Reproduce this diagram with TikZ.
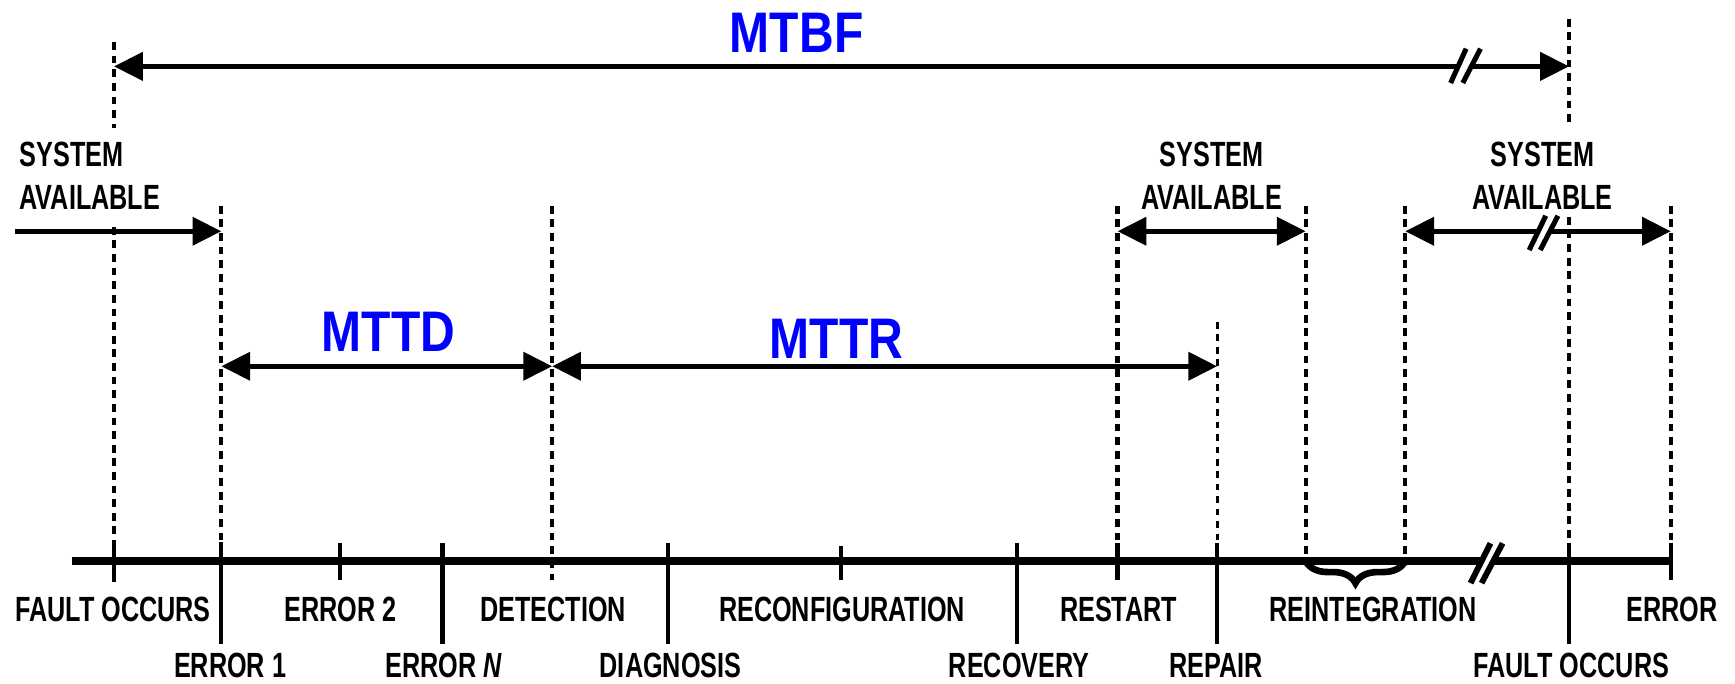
\documentclass[tikz,border=0pt]{standalone}
\usepackage{fontspec}
\setmainfont{Liberation Sans}[FakeStretch=0.72]
\newfontfamily\bluefont{Liberation Sans}[FakeStretch=0.84]
\usetikzlibrary{arrows.meta,decorations.pathreplacing}
\definecolor{mblue}{RGB}{0,0,255}
\tikzset{
  lbl/.style={font=\bfseries\fontsize{9}{11.1}\selectfont, inner sep=0pt, anchor=base},
  salbl/.style={font=\bfseries\fontsize{9}{11.1}\selectfont, inner sep=0pt, align=center},
  biglbl/.style={font=\bluefont\bfseries\fontsize{14.7}{17}\selectfont, text=mblue, inner sep=0pt, anchor=base},
  axisline/.style={line width=1.8pt},
  tk/.style={line width=1.1pt},
  dl/.style={line width=1.1pt, dash pattern=on 2pt off 1.5pt},
  dlthin/.style={line width=0.75pt, dash pattern=on 1.7pt off 1.5pt},
  spanline/.style={line width=1.25pt},
  brk/.style={line width=1.3pt},
  myhead/.tip={Triangle[length=0.26cm,width=0.25cm]},
}
\begin{document}
\begin{tikzpicture}[x=0.01cm,y=-0.01cm]
\useasboundingbox (0,0) rectangle (1568,618);

% ---- vertical reference lines
\coordinate (v1t) at (103,38);  \coordinate (v1m) at (103,116);
\coordinate (v1n) at (103,205); \coordinate (v1b) at (103,507);
\coordinate (v2t) at (200,186); \coordinate (v2b) at (200,507);
\coordinate (v3t) at (499,186); \coordinate (v3b) at (499,524);
\coordinate (v4t) at (1010,186); \coordinate (v4b) at (1010,507);
\coordinate (v5t) at (1100,291); \coordinate (v5b) at (1100,507);
\coordinate (v6t) at (1180,186); \coordinate (v6b) at (1180,507);
\coordinate (v7t) at (1270,186); \coordinate (v7b) at (1270,507);
\coordinate (v8t) at (1418,17);  \coordinate (v8m) at (1418,111);
\coordinate (v8n) at (1418,196); \coordinate (v8b) at (1418,507);
\coordinate (v9t) at (1510,186); \coordinate (v9b) at (1510,507);

\draw[dl] (v1t) -- (v1m);
\draw[dl] (v1n) -- (v1b);
\draw[dl] (v2t) -- (v2b);
\draw[dl] (v3t) -- (v3b);
\draw[dl] (v4t) -- (v4b);
\draw[dlthin] (v5t) -- (v5b);
\draw[dl] (v6t) -- (v6b);
\draw[dl] (v7t) -- (v7b);
\draw[dl] (v8t) -- (v8m);
\draw[dl] (v8n) -- (v8b);
\draw[dl] (v9t) -- (v9b);

% ---- time axis
\coordinate (axL) at (65,507);  \coordinate (axA) at (1339,507);
\coordinate (axB) at (1349,507); \coordinate (axR) at (1510,507);
\draw[axisline] (axL) -- (axA);
\draw[axisline] (axB) -- (axR);
\draw[brk,line width=1.5pt] (1329,527) -- (1347,491);
\draw[brk,line width=1.5pt] (1339,527) -- (1358,491);

% ---- ticks
\draw[tk] (103,490) -- (103,526);
\draw[tk] (200,490) -- (200,582);
\draw[tk] (307,491) -- (307,524);
\draw[tk] (400,491) -- (400,582);
\draw[tk] (604,491) -- (604,582);
\draw[tk] (760,493) -- (760,524);
\draw[tk] (919,491) -- (919,582);
\draw[tk] (1010,491) -- (1010,524);
\draw[tk] (1100,491) -- (1100,582);
\draw[tk] (1418,491) -- (1418,582);
\draw[tk] (1510,491) -- (1510,524);

% ---- brace
\draw[line width=1.7pt, decorate, decoration={brace, mirror, amplitude=0.2cm}] (v6b) -- (v7b);

% ---- span arrows
\coordinate (mbL) at (103,60);  \coordinate (mbA) at (1318,60);
\coordinate (mbB) at (1330,60); \coordinate (mbR) at (1418,60);
\draw[spanline, myhead-] (mbL) -- (mbA);
\draw[spanline, -myhead] (mbB) -- (mbR);
\draw[brk] (1311,75) -- (1325,44);
\draw[brk] (1322,75) -- (1338,44);

\coordinate (saL) at (14,209); \coordinate (saR) at (200,209);
\draw[spanline, -myhead] (saL) -- (saR);

\coordinate (smL) at (1010,209); \coordinate (smR) at (1180,209);
\draw[spanline, myhead-myhead] (smL) -- (smR);

\coordinate (srL) at (1270,209); \coordinate (srA) at (1390,209);
\coordinate (srB) at (1400,209); \coordinate (srR) at (1510,209);
\draw[spanline, myhead-] (srL) -- (srA);
\draw[spanline, -myhead] (srB) -- (srR);
\draw[brk] (1382,226) -- (1397,195);
\draw[brk] (1392,226) -- (1408,195);

\coordinate (tdL) at (200,331); \coordinate (tdR) at (499,331);
\draw[spanline, myhead-myhead] (tdL) -- (tdR);
\coordinate (trL) at (499,331); \coordinate (trR) at (1100,331);
\draw[spanline, myhead-myhead] (trL) -- (trR);

% ---- blue labels
\node[biglbl] (mtbf) at (720,47) {MTBF};
\node[biglbl] (mttd) at (351,318) {MTTD};
\node[biglbl] (mttr) at (756,324) {MTTR};

% ---- system available labels
\node[salbl, align=left, anchor=west] (sa1) at (17,159) {SYSTEM\\AVAILABLE};
\node[salbl] (sa2) at (1095,159) {SYSTEM\\AVAILABLE};
\node[salbl] (sa3) at (1394,159) {SYSTEM\\AVAILABLE};

% ---- axis labels
\node[lbl] (l1) at (102,562) {FAULT OCCURS};
\node[lbl] (l2) at (308,562) {ERROR 2};
\node[lbl] (l3) at (500,562) {DETECTION};
\node[lbl] (l4) at (761,562) {RECONFIGURATION};
\node[lbl] (l5) at (1011,562) {RESTART};
\node[lbl] (l6) at (1241,562) {REINTEGRATION};
\node[lbl] (l7) at (1511,562) {ERROR};
\node[lbl] (m1) at (208,612) {ERROR 1};
\node[lbl] (m2) at (401,612) {ERROR \textit{N}};
\node[lbl] (m3) at (606,612) {DIAGNOSIS};
\node[lbl] (m4) at (921,612) {RECOVERY};
\node[lbl] (m5) at (1099,612) {REPAIR};
\node[lbl] (m6) at (1420,612) {FAULT OCCURS};
\end{tikzpicture}
\end{document}
